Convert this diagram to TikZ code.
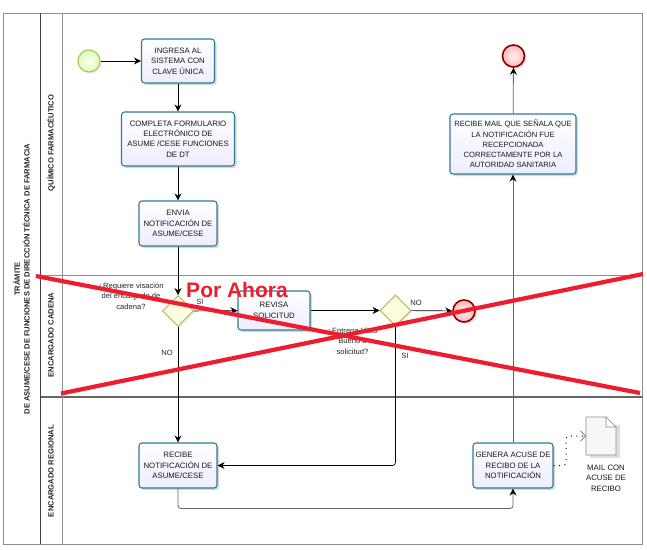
\documentclass[tikz,border=0pt]{standalone}
\usepackage{fontspec}
\setmainfont{Liberation Sans}
\usetikzlibrary{arrows.meta,shadows,shapes.geometric}
\definecolor{taskedge}{HTML}{2F7C96}
\definecolor{redline}{HTML}{EE1C2E}
\definecolor{lanegray}{HTML}{8E8E8E}
\definecolor{startedge}{HTML}{A8C84A}
\tikzset{
  x=1pt,y=-1pt,
  tasktext/.style={font=\fontsize{7.8}{10.4}\selectfont,align=center,text=black!90},
  taskbox/.style={tasktext,draw=taskedge,line width=1.1pt,rounded corners=3pt,top color=white,bottom color=blue!7,
     drop shadow={shadow xshift=2pt,shadow yshift=-2pt,fill=black!30,opacity=.5},inner sep=0pt},
  flow/.style={draw=black,line width=.7pt,-{Stealth[length=7pt,width=7pt]}},
  grayflow/.style={draw=black!60,line width=.8pt,-{Stealth[length=7pt,width=7pt,color=black]}},
  gatewaybox/.style={diamond,draw=black!10!olive!60,line width=.9pt,fill=yellow!12,minimum width=31pt,minimum height=31pt,inner sep=0pt,
     drop shadow={shadow xshift=1.5pt,shadow yshift=-1.5pt,fill=black!20,opacity=.4}},
  startev/.style={circle,draw=startedge,line width=1.1pt,inner color=yellow!8,outer color=yellow!45!green!25,minimum size=22pt,inner sep=0pt,
     drop shadow={shadow xshift=1.5pt,shadow yshift=-1.5pt,fill=black!20,opacity=.4}},
  endev/.style={circle,draw=red!55!black,line width=1.6pt,inner color=red!5,outer color=red!28,minimum size=22pt,inner sep=0pt,
     drop shadow={shadow xshift=2pt,shadow yshift=-2pt,fill=black!25,opacity=.5}},
  lanelabel/.style={rotate=90,font=\fontsize{7.6}{9.6}\selectfont\bfseries,align=center,text=black!85},
  plainlabel/.style={font=\fontsize{7.6}{10.6}\selectfont,align=center,text=black!85},
  crossline/.style={draw=redline,line width=4.2pt},
}
\begin{document}
\begin{tikzpicture}
\useasboundingbox (0,0) rectangle (647,549);
\fill[white] (0,0) rectangle (647,549);
% pool
\draw[lanegray,line width=.8pt] (3.5,13) rectangle (642.5,544);
\draw[lanegray,line width=.8pt] (40.5,275) -- (642.5,275);
\draw[black!60,line width=1.6pt] (40.5,397) -- (642.5,397);
\draw[black!75,line width=.8pt] (40.5,13) -- (40.5,544);
\draw[lanegray,line width=.8pt] (62.5,13) -- (62.5,544);
\node[lanelabel] (pool) at (21.5,279) {TRÁMITE\\DE ASUME/CESE DE FUNCIONES DE DIRECCIÓN TÉCNICA DE FARMACIA};
\node[lanelabel] (lane1) at (51,143) {QUÍMICO FARMACÉUTICO};
\node[lanelabel] (lane2) at (51,335) {ENCARGADO CADENA};
\node[lanelabel] (lane3) at (51,471) {ENCARGADO REGIONAL};
% events, tasks, gateways
\node[startev] (start) at (89,61) {};
\node[taskbox,minimum width=73pt,minimum height=44pt] (ingresa) at (178,61) {INGRESA AL\\SISTEMA CON\\CLAVE ÚNICA};
\node[taskbox,minimum width=113pt,minimum height=54pt] (completa) at (178,139) {COMPLETA FORMULARIO\\ELECTRÓNICO DE\\ASUME /CESE  FUNCIONES\\DE DT};
\node[taskbox,minimum width=78pt,minimum height=45pt] (envia) at (178,223.5) {ENVIA\\NOTIFICACIÓN DE\\ASUME/CESE};
\node[gatewaybox] (gw1) at (178,311) {};
\node[taskbox,minimum width=72pt,minimum height=39pt] (revisa) at (274,310.5) {REVISA\\SOLICITUD};
\node[gatewaybox] (gw2) at (395.5,310.5) {};
\node[endev] (end1) at (464,311) {};
\node[endev] (end2) at (513.5,56) {};
\node[taskbox,minimum width=126pt,minimum height=60pt,font=\fontsize{7.6}{10.2}\selectfont] (mail) at (513,144) {RECIBE MAIL QUE SEÑALA QUE\\LA NOTIFICACIÓN FUE\\RECEPCIONADA\\CORRECTAMENTE POR LA\\AUTORIDAD SANITARIA};
\node[taskbox,minimum width=78pt,minimum height=45pt] (recibe) at (178,465.5) {RECIBE\\NOTIFICACIÓN DE\\ASUME/CESE};
\node[taskbox,minimum width=80pt,minimum height=45pt] (genera) at (513,465.5) {GENERA ACUSE DE\\RECIBO DE LA\\NOTIFICACIÓN};
% connectors
\coordinate (rbend1) at (395.5,465.5);
\coordinate (gbend1) at (178,508.5);
\coordinate (gbend2) at (513,508.5);
\coordinate (dbend1) at (566,465.5);
\coordinate (dbend2) at (566,436);
\coordinate (docin) at (586,436);
\draw[flow] (start) -- (ingresa);
\draw[flow] (ingresa) -- (completa);
\draw[flow] (completa) -- (envia);
\draw[flow] (envia) -- (gw1);
\draw[flow] (gw1) -- (recibe);
\draw[flow] (gw1) -- (revisa);
\draw[flow] (revisa) -- (gw2);
\draw[flow] (gw2) -- (end1);
\draw[flow,rounded corners=3pt] (gw2) -- (rbend1) -- (recibe);
\draw[grayflow,rounded corners=3pt] (recibe) -- (gbend1) -- (gbend2) -- (genera);
\draw[grayflow] (genera) -- (mail);
\draw[grayflow] (mail) -- (end2);
\draw[black,line width=1pt,dash pattern=on 1pt off 4.5pt,rounded corners=3pt,-{Straight Barb[length=5pt,width=10pt,color=black!55,line width=.6pt]}] (genera) -- (dbend1) -- (dbend2) -- (docin);
% document
\fill[black!18,opacity=.7] (590,425) -- (620,425) -- (620,458) -- (590,458) -- cycle;
\draw[black!45,line width=.7pt,fill=black!3] (586,417) -- (606,417) -- (616,427) -- (616,455) -- (586,455) -- cycle;
\draw[black!45,line width=.7pt,fill=white] (606,417) -- (606,427) -- (616,427) -- cycle;
\node[tasktext] (doclabel) at (606,478) {MAIL CON\\ACUSE DE\\RECIBO};
% labels
\node[plainlabel] (q1) at (131,296) {¿Requiere visación\\del encargado de\\cadena?};
\node[plainlabel] (q2) at (352.5,341) {¿Entrega Visto\\Bueno a\\solicitud?};
\node[plainlabel] (si1) at (200,302) {SI};
\node[plainlabel] (no1) at (167,353) {NO};
\node[plainlabel] (no2) at (416,303) {NO};
\node[plainlabel] (si2) at (405,356) {SI};
% strike-through
\draw[crossline] (36,276) -- (640,393);
\draw[crossline] (61,393.5) -- (643,274);
\node[font=\fontsize{21}{24}\selectfont\bfseries,text=redline] (porahora) at (237,290) {Por Ahora};
\end{tikzpicture}
\end{document}
